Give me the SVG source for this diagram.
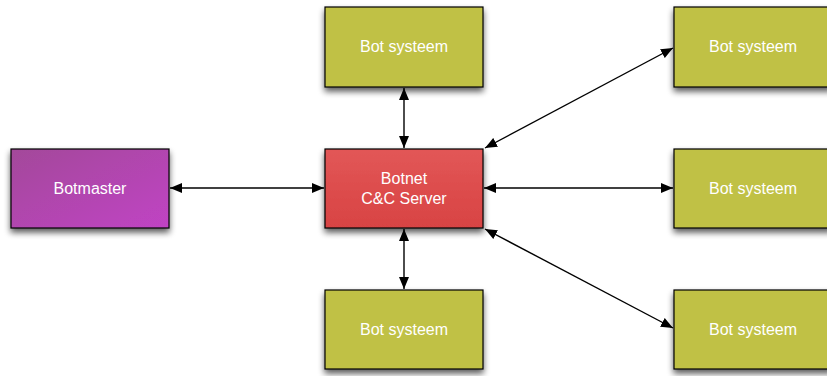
<svg xmlns="http://www.w3.org/2000/svg" width="827" height="376" viewBox="0 0 827 376">
  <defs>
    <linearGradient id="gMaster" x1="0" y1="0" x2="1" y2="1">
      <stop offset="0" stop-color="#a3489a"/>
      <stop offset="1" stop-color="#c043c4"/>
    </linearGradient>
    <linearGradient id="gServer" x1="0" y1="0" x2="0" y2="1">
      <stop offset="0" stop-color="#e25757"/>
      <stop offset="1" stop-color="#d84343"/>
    </linearGradient>
    <filter id="shadow" x="-10%" y="-10%" width="130%" height="140%">
      <feGaussianBlur in="SourceAlpha" stdDeviation="3"/>
      <feOffset dx="0" dy="4" result="b"/>
      <feComponentTransfer><feFuncA type="linear" slope="0.65"/></feComponentTransfer>
      <feMerge><feMergeNode/><feMergeNode in="SourceGraphic"/></feMerge>
    </filter>
    <marker id="head" viewBox="0 0 12 10" refX="12" refY="5" markerWidth="12" markerHeight="10" markerUnits="userSpaceOnUse" orient="auto-start-reverse">
      <path d="M0,0 L12,5 L0,10 Z" fill="#000"/>
    </marker>
  </defs>
  <style>
    .box { stroke: #000; stroke-width: 1.2; filter: url(#shadow); }
    .bot { fill: #c0c145; }
    .lbl { font-family: "Liberation Sans", Arial, sans-serif; font-size: 16px; fill: #fff; text-anchor: middle; }
    .edge { stroke: #000; stroke-width: 1.4; fill: none; marker-start: url(#head); marker-end: url(#head); }
  </style>

  <g id="connectors">
    <line class="edge" x1="170" y1="188" x2="324" y2="188"/>
    <line class="edge" x1="404" y1="88" x2="404" y2="148"/>
    <line class="edge" x1="404" y1="229" x2="404" y2="289"/>
    <line class="edge" x1="484" y1="188" x2="673" y2="188"/>
    <line class="edge" x1="485" y1="148" x2="673" y2="48"/>
    <line class="edge" x1="485" y1="229" x2="673" y2="328"/>
  </g>

  <g id="botmaster">
    <rect class="box" x="11" y="149" width="158" height="79" fill="url(#gMaster)"/>
    <text class="lbl" x="90" y="194">Botmaster</text>
  </g>

  <g id="cc-server">
    <rect class="box" x="325" y="149" width="158" height="79" fill="url(#gServer)"/>
    <text class="lbl" x="404" y="184">Botnet</text>
    <text class="lbl" x="404" y="204">C&amp;C Server</text>
  </g>

  <g id="bot-top">
    <rect class="box bot" x="325" y="7" width="158" height="80"/>
    <text class="lbl" x="404" y="52">Bot systeem</text>
  </g>

  <g id="bot-bottom">
    <rect class="box bot" x="325" y="290" width="158" height="79"/>
    <text class="lbl" x="404" y="335">Bot systeem</text>
  </g>

  <g id="bot-right-top">
    <rect class="box bot" x="674" y="7" width="158" height="80"/>
    <text class="lbl" x="753" y="52">Bot systeem</text>
  </g>

  <g id="bot-right-middle">
    <rect class="box bot" x="674" y="149" width="158" height="79"/>
    <text class="lbl" x="753" y="194">Bot systeem</text>
  </g>

  <g id="bot-right-bottom">
    <rect class="box bot" x="674" y="290" width="158" height="79"/>
    <text class="lbl" x="753" y="335">Bot systeem</text>
  </g>
</svg>
